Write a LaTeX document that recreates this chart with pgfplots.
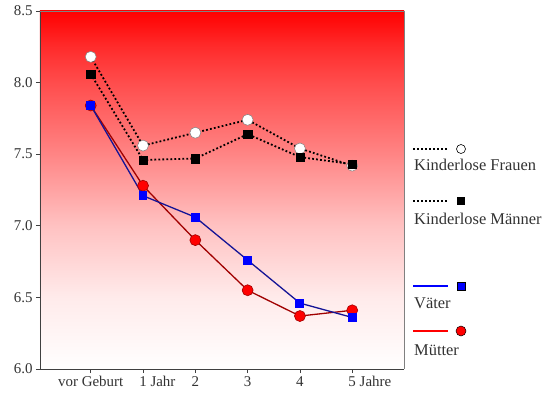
\documentclass[border=0pt]{standalone}
\usepackage{pgfplots}
\pgfplotsset{compat=1.18}
\usepackage{fontspec}
\setmainfont{Liberation Serif}
\definecolor{txt}{RGB}{50,50,50}
\definecolor{vline}{RGB}{20,20,150}
\definecolor{mline}{RGB}{160,0,0}
\newcommand{\lgf}{\fontsize{16.5}{19}\selectfont}
\pgfdeclareverticalshading{bgshade}{100bp}{color(0bp)=(white); color(25bp)=(white); color(35bp)=(red!8); color(45bp)=(red!24); color(50bp)=(red!36); color(55bp)=(red!48); color(65bp)=(red!70); color(70bp)=(red!83); color(75bp)=(red); color(100bp)=(red)}
\begin{document}
\begin{tikzpicture}[x=1bp,y=1bp]
\begin{axis}[
  scale only axis,
  width=364bp, height=358bp,
  xmin=-0.97, xmax=5.99,
  ymin=6, ymax=8.5,
  axis lines*=left,
  axis line style={darkgray, line width=0.8pt},
  axis background/.style={shading=bgshade},
  xtick={0,1,2,3,4,5},
  xticklabels={vor Geburt,1\rlap{ Jahr},2,3,4,5\rlap{ Jahre}},
  ytick={6,6.5,7,7.5,8,8.5},
  yticklabel style={/pgf/number format/fixed,/pgf/number format/fixed zerofill,/pgf/number format/precision=1},
  /pgf/number format/assume math mode=true,
  tick align=outside,
  major tick length=4bp,
  tick style={darkgray, line width=0.8pt},
  ticklabel style={font=\fontsize{15}{18}\selectfont, text=txt},
  clip=false,
]
\draw[gray, line width=0.8pt] (rel axis cs:1,0) -- (rel axis cs:1,1) -- (rel axis cs:0,1);
% Kinderlose Frauen
\addplot[black, line width=1.8bp, dash pattern=on 1.8bp off 2.2bp,
  mark=*, mark size=5.5bp, mark options={solid, fill=white, draw=gray, line width=0.5bp}]
  coordinates {(0,8.18) (1,7.56) (2,7.65) (3,7.74) (4,7.54) (5,7.42)};
% Kinderlose Maenner
\addplot[black, line width=1.8bp, dash pattern=on 1.8bp off 2.2bp,
  mark=square*, mark size=4.2bp, mark options={solid, fill=black, draw=black, line width=0.3bp}]
  coordinates {(0,8.06) (1,7.46) (2,7.47) (3,7.64) (4,7.48) (5,7.43)};
% Muetter
\addplot[mline, line width=1.3bp,
  mark=*, mark size=5.5bp, mark options={solid, fill=red, draw=mline, line width=0.6bp}]
  coordinates {(0,7.84) (1,7.28) (2,6.90) (3,6.55) (4,6.37) (5,6.41)};
% Vaeter
\addplot[vline, line width=1.3bp,
  mark=square*, mark size=3.8bp, mark options={solid, fill=blue, draw=blue}]
  coordinates {(0,7.84) (1,7.21) (2,7.06) (3,6.76) (4,6.46) (5,6.36)};
\end{axis}
% legend
\draw[black, line width=1.8bp, dash pattern=on 1.8bp off 2.2bp] (373,220) -- (408,220);
\fill[white, draw=black, line width=0.6bp] (421,220) circle (4.5bp);
\node[anchor=west, inner sep=0pt, font=\lgf, text=txt] at (374,204) {Kinderlose Frauen};
\draw[black, line width=1.8bp, dash pattern=on 1.8bp off 2.2bp] (373,168) -- (408,168);
\fill[black] (417,164) rectangle (425,172);
\node[anchor=west, inner sep=0pt, font=\lgf, text=txt] at (374,150) {Kinderlose Männer};
\draw[blue, line width=2.5bp] (373,83) -- (408,83);
\fill[blue, draw=black, line width=0.4bp] (417,79) rectangle (425,87);
\node[anchor=west, inner sep=0pt, font=\lgf, text=txt] at (374,66) {Väter};
\draw[red, line width=2.5bp] (373,38) -- (408,38);
\fill[red, draw=black, line width=0.5bp] (421,38) circle (5bp);
\node[anchor=west, inner sep=0pt, font=\lgf, text=txt] at (374,19) {Mütter};
\pgfresetboundingbox
\useasboundingbox (-40,-24) rectangle (510,369);
\end{tikzpicture}
\end{document}
